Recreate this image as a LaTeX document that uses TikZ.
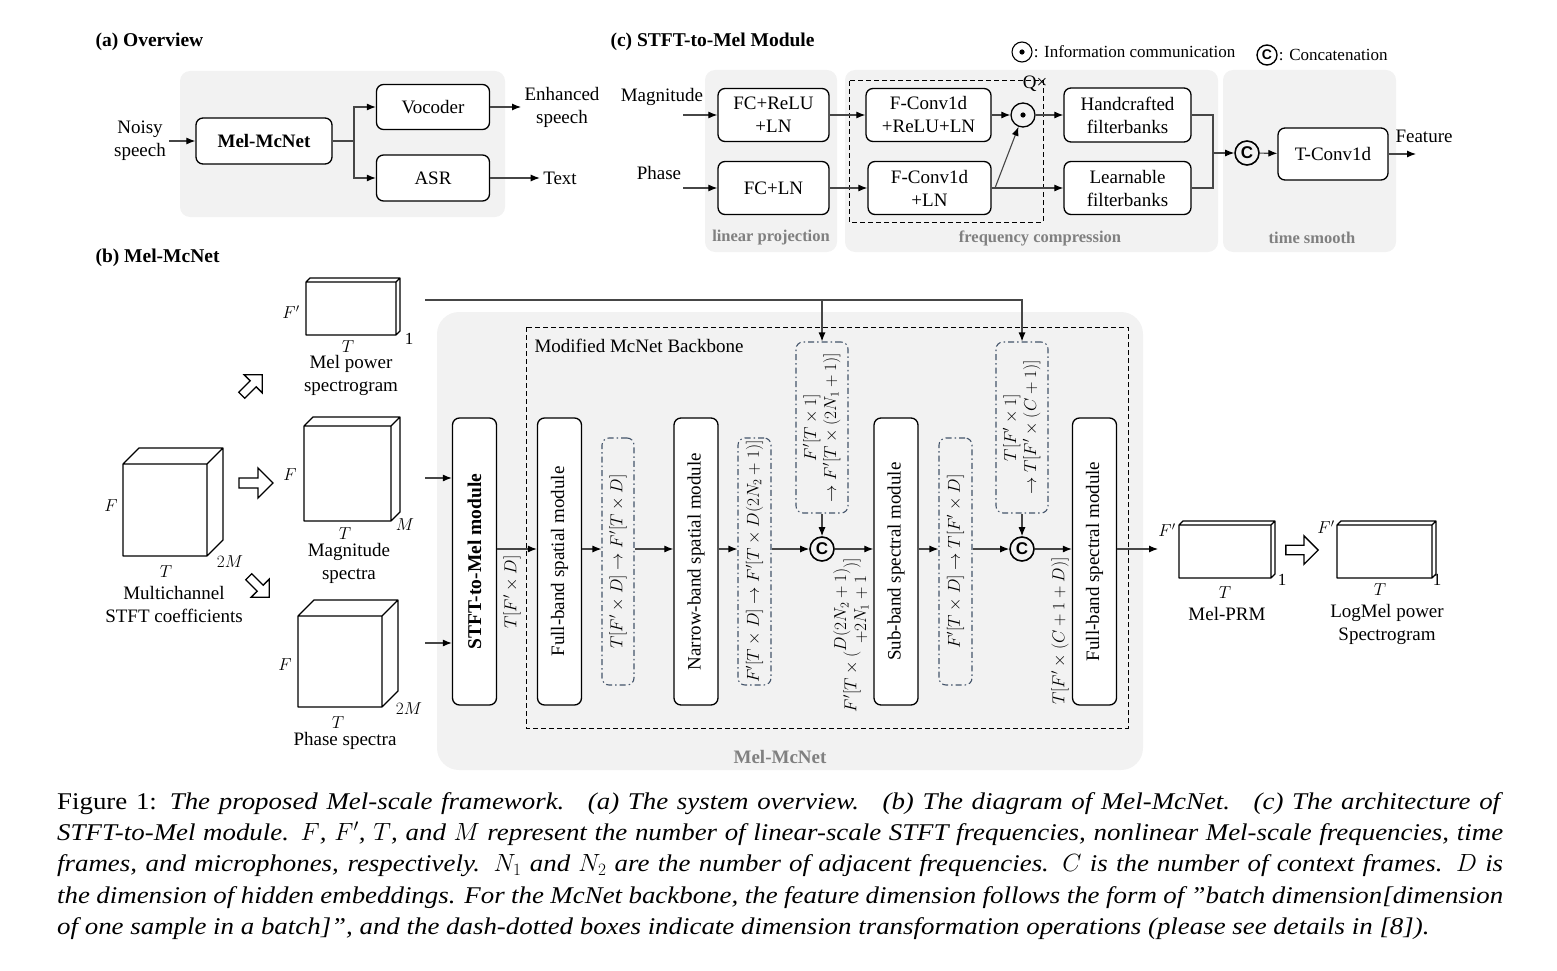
\documentclass[tikz,border=0pt]{standalone}
\usepackage{fontspec}
\setmainfont{Liberation Serif}
\setsansfont{Liberation Sans}
\newfontfamily\capfont[FakeStretch=1.12]{Liberation Serif}
\usepackage{graphicx}
\usetikzlibrary{arrows.meta,calc}

\definecolor{panelgray}{RGB}{242,242,242}
\definecolor{labelgray}{RGB}{128,128,128}
\definecolor{dimline}{RGB}{68,84,106}
\definecolor{linkgray}{RGB}{70,70,70}

% front corner (x,y), width, height, depth
\newcommand\cuboid[5]{%
  \draw[line width=1.3pt, line join=round] (#1,#2) rectangle ++(#3,#4)
    (#1,#2) -- ++(#5,-#5) -- ++(#3,0) -- ++(0,#4) -- ++(-#5,#5)
    (#1+#3,#2) -- ++(#5,-#5);}
% centre (x,y), angle, scale
\newcommand\hollowarrow[4]{%
  \draw[line width=1.3pt, fill=white, shift={(#1,#2)}, rotate=#3, scale=#4]
    (-17,-5) -- (2,-5) -- (2,-15) -- (17,0) -- (2,15) -- (2,5) -- (-17,5) -- cycle;}

\tikzset{
  every node/.style={font=\fontsize{19}{23}\selectfont},
  box/.style={draw, line width=1.3pt, rounded corners=7pt, fill=white, align=center, inner sep=0pt},
  modbox/.style={box, minimum width=44pt, minimum height=287pt},
  dimbox/.style={draw=dimline, line width=1.1pt, dash pattern=on 6pt off 3pt on 1.5pt off 3pt,
    rounded corners=7pt, inner sep=0pt, font=\fontsize{16.5}{20}\selectfont},
  dotc/.style={circle, draw, line width=1.3pt, minimum size=24pt, inner sep=0pt,
    path picture={\fill (path picture bounding box.center) circle (2.6pt);}},
  catc/.style={circle, draw, line width=1.6pt, minimum size=24pt, inner sep=0pt,
    font=\sffamily\bfseries\fontsize{17}{17}\selectfont},
  arr/.style={draw=linkgray, line width=1.1pt, -{Latex[length=9pt,width=7pt,color=black]}},
  link/.style={draw=linkgray, line width=1.1pt},
  ttl/.style={anchor=west, font=\bfseries\fontsize{19.5}{23}\selectfont},
  grp/.style={text=labelgray, font=\bfseries\fontsize{16.5}{20}\selectfont},
  dimlbl/.style={font=\fontsize{17}{20}\selectfont},
  small/.style={inner sep=1pt, font=\fontsize{17}{20}\selectfont},
  cubelbl/.style={align=center, inner sep=1pt},
}

\begin{document}
\begin{tikzpicture}[x=1pt,y=-1pt]
\useasboundingbox (0,0) rectangle (1557,971);
%
% (a) overview
\node[ttl] (ttla) at (92,42) {(a) Overview};
\fill[panelgray, rounded corners=10pt] (180,71) rectangle (505,217);
\node[align=center] (noisy) at (140,141) {Noisy\\speech};
\node[box, minimum width=136pt, minimum height=46pt, font=\bfseries\fontsize{19}{23}\selectfont] (melbox) at (264,141) {Mel-McNet};
\node[box, minimum width=113pt, minimum height=45pt] (voc) at (433,107) {Vocoder};
\node[box, minimum width=113pt, minimum height=46pt] (asr) at (433,178) {ASR};
\node[align=center] (enh) at (562,107) {Enhanced\\speech};
\node (txt) at (560,178) {Text};
\coordinate (split) at (354,141);
\draw[arr] (noisy) -- (melbox);
\draw[link] (melbox) -- (split);
\draw[arr] (split) |- (voc);
\draw[arr] (split) |- (asr);
\draw[arr] (voc) -- (enh);
\draw[arr] (asr) -- (txt);
%
% (c) STFT-to-Mel module
\node[ttl] (ttlc) at (607,42) {(c) STFT-to-Mel Module};
\node[dotc, minimum size=20pt, line width=1.1pt] (lgdot) at (1022,52) {};
\node[small, anchor=west] (lgdottxt) at (lgdot.east) {: Information communication};
\node[catc, minimum size=20pt, line width=1.4pt, font=\sffamily\bfseries\fontsize{14}{14}\selectfont] (lgcat) at (1267,55) {C};
\node[small, anchor=west] (lgcattxt) at (lgcat.east) {: Concatenation};
\fill[panelgray, rounded corners=10pt] (705,70) rectangle (837,252);
\fill[panelgray, rounded corners=10pt] (845,70) rectangle (1218,252);
\fill[panelgray, rounded corners=10pt] (1223,70) rectangle (1396,252);
\node[grp] (glin) at (771,238) {linear projection};
\node[grp] (gfreq) at (1040,238) {frequency compression};
\node[grp] (gtime) at (1312,238) {time smooth};
\draw[line width=1pt, dash pattern=on 5pt off 3pt] (849,81) rectangle (1043,222);
\node (qx) at (1035,84) {Q×};
\node (magtxt) at (662,97) {Magnitude};
\node (phtxt) at (659,173) {Phase};
\coordinate (magin) at (683,115);
\coordinate (phin) at (683,188);
\node[box, minimum width=111pt, minimum height=53pt] (fcr) at (773.5,115) {FC+ReLU\\+LN};
\node[box, minimum width=111pt, minimum height=53pt] (fcl) at (773.5,188) {FC+LN};
\node[box, minimum width=125pt, minimum height=53pt] (fcv1) at (928.5,115) {F-Conv1d\\+ReLU+LN};
\node[box, minimum width=123pt, minimum height=53pt] (fcv2) at (929.5,188) {F-Conv1d\\+LN};
\node[dotc] (ic) at (1023,115) {};
\node[box, minimum width=127pt, minimum height=54pt] (hand) at (1127.5,115) {Handcrafted\\filterbanks};
\node[box, minimum width=127pt, minimum height=53pt] (learn) at (1127.5,188) {Learnable\\filterbanks};
\node[catc] (cat1) at (1247,153) {C};
\node[box, minimum width=110pt, minimum height=52pt] (tconv) at (1333,154) {T-Conv1d};
\node (feat) at (1424,136) {Feature};
\coordinate (featout) at (1416,154);
\coordinate (tap) at (995,188);
\coordinate (merge) at (1213,153);
\draw[arr] (magin) -- (fcr);
\draw[arr] (phin) -- (fcl);
\draw[arr] (fcr) -- (fcv1);
\draw[arr] (fcl) -- (fcv2);
\draw[arr] (fcv1) -- (ic);
\draw[arr] (ic) -- (hand);
\draw[arr] (fcv2) -- (learn);
\draw[arr] (tap) -- (ic);
\draw[link] (hand) -| (merge);
\draw[link] (learn) -| (merge);
\draw[arr] (merge) -- (cat1);
\draw[arr] (cat1) -- (tconv);
\draw[arr] (tconv) -- (featout);
%
% (b) Mel-McNet
\node[ttl] (ttlb) at (92,258) {(b) Mel-McNet};
\fill[panelgray, rounded corners=22pt] (437,312) rectangle (1143,770);
\node[text=labelgray, font=\bfseries\fontsize{19}{23}\selectfont] (mclbl) at (780,757) {Mel-McNet};
\draw[line width=1pt, dash pattern=on 5pt off 3pt] (526,327) rectangle (1128,728);
\node[anchor=west] (bblbl) at (531,346) {Modified McNet Backbone};
%
\cuboid{306}{282}{90}{53}{4}
\node[small] (mpF) at (291,312) {$F'$};
\node[small] (mpT) at (348,347) {$T$};
\node[small] (mp1) at (409,339) {1};
\node[cubelbl] (mplbl) at (351,375) {Mel power\\spectrogram};
\cuboid{123}{464}{84}{92}{16}
\node[small] (mcF) at (111,506) {$F$};
\node[small] (mcT) at (166,572) {$T$};
\node[small] (mcM) at (230,562) {$2M$};
\node[cubelbl] (mclab) at (174,604) {Multichannel\\STFT coefficients};
\cuboid{304}{426}{87}{95}{9}
\node[small] (mgF) at (290,475) {$F$};
\node[small] (mgT) at (345,534) {$T$};
\node[small] (mgM) at (405,525) {$M$};
\node[cubelbl] (mglab) at (349,563) {Magnitude\\spectra};
\cuboid{298}{616}{84}{91}{16}
\node[small] (phF) at (285,665) {$F$};
\node[small] (phT) at (338,723) {$T$};
\node[small] (phM) at (409,709) {$2M$};
\node[cubelbl] (phlab) at (345,741) {Phase spectra};
\hollowarrow{252}{385}{45}{0.85}
\hollowarrow{256}{483}{0}{1}
\hollowarrow{259}{587}{-45}{0.85}
%
\coordinate (row) at (0,549);
\node[modbox, font=\bfseries\fontsize{19.5}{23}\selectfont] (stm) at (474.5,561.5) {\rotatebox{90}{STFT-to-Mel module}};
\node[modbox] (fbs) at (559.5,561.5) {\rotatebox{90}{Full-band spatial module}};
\node[dimbox, minimum width=32pt, minimum height=247pt] (d1) at (618,561.5) {\rotatebox{90}{$T[F'\times D]\to F'[T\times D]$}};
\node[modbox] (nbs) at (696,561.5) {\rotatebox{90}{Narrow-band spatial module}};
\node[dimbox, minimum width=33pt, minimum height=247pt] (d2) at (754.5,561.5) {\rotatebox{90}{$F'[T\times D]\to F'[T\times D(2N_2+1)]$}};
\node[dimbox, minimum width=52pt, minimum height=171pt] (dt1) at (822,427.5) {\rotatebox{90}{$\begin{array}{c}F'[T\times 1]\\ \to F'[T\times(2N_1+1)]\end{array}$}};
\node[catc] (cat2) at (822,549) {C};
\node[modbox] (sbs) at (896,561.5) {\rotatebox{90}{Sub-band spectral module}};
\node[dimbox, minimum width=33pt, minimum height=247pt] (d3) at (955.5,561.5) {\rotatebox{90}{$F'[T\times D]\to T[F'\times D]$}};
\node[dimbox, minimum width=52pt, minimum height=171pt] (dt2) at (1022,427.5) {\rotatebox{90}{$\begin{array}{c}T[F'\times 1]\\ \to T[F'\times(C+1)]\end{array}$}};
\node[catc] (cat3) at (1022,549) {C};
\node[modbox] (fbsp) at (1094.5,561.5) {\rotatebox{90}{Full-band spectral module}};
\node[dimlbl] (lbl1) at (512,592) {\rotatebox{90}{$T[F'\times D]$}};
\node[dimlbl] (lbl2) at (852,635) {\rotatebox{90}{$F'\Bigl[T\times\Bigl(\begin{array}{@{}c@{}}D(2N_2+1)\\+2N_1+1\end{array}\Bigr)\Bigr]$}};
\node[dimlbl] (lbl3) at (1060,631) {\rotatebox{90}{$T[F'\times(C+1+D)]$}};
%
\coordinate (melout) at (425,300);
\coordinate (magout) at (425,478);
\coordinate (phout) at (425,643);
\coordinate (mcout) at (1158,549);
\draw[arr] (melout) -| (dt2.north);
\draw[arr] (dt1.north |- melout) -- (dt1.north);
\draw[arr] (magout) -- (magout -| stm.west);
\draw[arr] (phout) -- (phout -| stm.west);
\draw[arr] (stm.east |- row) -- (fbs.west |- row);
\draw[arr] (fbs.east |- row) -- (d1.west |- row);
\draw[arr] (d1.east |- row) -- (nbs.west |- row);
\draw[arr] (nbs.east |- row) -- (d2.west |- row);
\draw[arr] (d2.east |- row) -- (cat2);
\draw[arr] (dt1) -- (cat2);
\draw[arr] (cat2) -- (sbs.west |- row);
\draw[arr] (sbs.east |- row) -- (d3.west |- row);
\draw[arr] (d3.east |- row) -- (cat3);
\draw[arr] (dt2) -- (cat3);
\draw[arr] (cat3) -- (fbsp.west |- row);
\draw[arr] (fbsp.east |- row) -- (mcout);
%
\cuboid{1179}{525}{92}{53}{4}
\node[small] (prF) at (1167,530) {$F'$};
\node[small] (prT) at (1225,593) {$T$};
\node[small] (pr1) at (1282,580) {1};
\node[cubelbl] (prlab) at (1227,614) {Mel-PRM};
\hollowarrow{1302}{550}{0}{0.95}
\cuboid{1337}{525}{95}{53}{4}
\node[small] (lmF) at (1326,527) {$F'$};
\node[small] (lmT) at (1380,590) {$T$};
\node[small] (lm1) at (1437,580) {1};
\node[cubelbl] (lmlab) at (1387,624) {LogMel power\\Spectrogram};
%
% caption
\node[anchor=north west, inner sep=0pt, align=left, font=\capfont\fontsize{24}{31.3}\selectfont] (cap) at (57,792) {%
\makebox[1446pt][s]{Figure 1: \textit{The proposed Mel-scale framework. \ (a) The system overview. \ (b) The diagram of Mel-McNet. \ (c) The architecture of}}\\
\makebox[1446pt][s]{\textit{STFT-to-Mel module. $F$, $F'$, $T$, and $M$ represent the number of linear-scale STFT frequencies, nonlinear Mel-scale frequencies, time}}\\
\makebox[1446pt][s]{\textit{frames, and microphones, respectively. $N_1$ and $N_2$ are the number of adjacent frequencies. $C$ is the number of context frames. $D$ is}}\\
\makebox[1446pt][s]{\textit{the dimension of hidden embeddings. For the McNet backbone, the feature dimension follows the form of ”batch dimension[dimension}}\\
\textit{of one sample in a batch]”, and the dash-dotted boxes indicate dimension transformation operations (please see details in [8]).}};
\end{tikzpicture}
\end{document}
